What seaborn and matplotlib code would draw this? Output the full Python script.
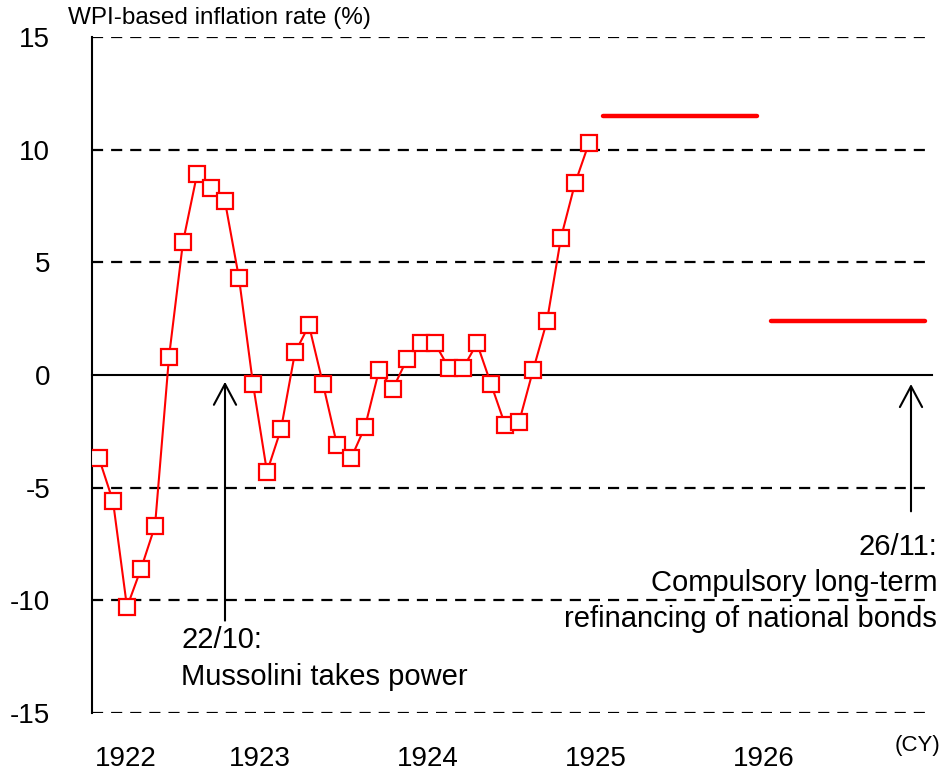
import numpy as np
import pandas as pd
import matplotlib
matplotlib.use("Agg")
import matplotlib.pyplot as plt
import seaborn as sns

# Monthly WPI-based inflation rate (%), Jan 1922 - Dec 1924
months_1922 = [-3.7, -5.6, -10.3, -8.6, -6.7, 0.8, 5.9, 8.9, 8.3, 7.7, 4.3, -0.4]
months_1923 = [-4.3, -2.4, 1.0, 2.2, -0.4, -3.1, -3.7, -2.3, 0.2, -0.6, 0.7, 1.4]
months_1924 = [1.4, 0.3, 0.3, 1.4, -0.4, -2.2, -2.1, 0.2, 2.4, 6.1, 8.5, 10.3]
start_year = 1922

# Annual figures shown as flat bars
annual_years = [1925, 1926]
annual_values = [11.5, 2.4]

year_labels = [1922, 1923, 1924, 1925, 1926]

# Events (year, month, label)
events = [
    (1922, 10, "22/10:\nMussolini takes power"),
    (1926, 11, "26/11:\nCompulsory long-term\nrefinancing of national bonds"),
]

values = months_1922 + months_1923 + months_1924
df = pd.DataFrame({
    "t": start_year + (np.arange(len(values)) + 0.5) / 12,
    "rate": values,
})

sns.set_style("white")
plt.rcParams["font.family"] = ["Liberation Sans", "DejaVu Sans"]
plt.rcParams["text.color"] = "black"
plt.rcParams["xtick.color"] = "black"
plt.rcParams["ytick.color"] = "black"

fig = plt.figure(figsize=(9.47, 7.77), dpi=100)
ax = fig.add_axes([92 / 947, 64 / 777, 840 / 947, 676 / 777])

# dashed grid
for y in [-15, -10, -5, 5, 10, 15]:
    ax.axhline(y, color="black", lw=1.6, ls=(0, (5, 3.6)), zorder=1)

sns.lineplot(data=df, x="t", y="rate", ax=ax, color="red", lw=1.5,
             marker="s", markersize=11.5, markerfacecolor="white",
             markeredgecolor="red", markeredgewidth=1.6, zorder=4)

for yr, v in zip(annual_years, annual_values):
    ax.plot([yr + 0.5 / 12, yr + 11.5 / 12], [v, v], color="red", lw=3.2,
            solid_capstyle="round", zorder=4)

ax.set_xlim(1922, 1927)
ax.set_ylim(-15, 15)

ax.spines["top"].set_visible(False)
ax.spines["right"].set_visible(False)
ax.spines["bottom"].set_position(("data", 0))
ax.spines["bottom"].set_linewidth(1.5)
ax.spines["left"].set_linewidth(1.5)
ax.spines["bottom"].set_color("black")
ax.spines["left"].set_color("black")

ax.set_xticks(np.arange(1922, 1927.01, 0.5))
ax.tick_params(axis="x", direction="in", length=7, width=1.5,
               labelbottom=False, color="black")
ax.set_yticks([-15, -10, -5, 0, 5, 10, 15])
ax.set_yticklabels([str(v) for v in [-15, -10, -5, 0, 5, 10, 15]])
ax.tick_params(axis="y", direction="in", length=6, width=1.5,
               pad=30, labelsize=20, color="black", labelcolor="black")
ax.set_xlabel("")
ax.set_ylabel("")

trans = ax.get_xaxis_transform()
for yr in year_labels:
    if yr == year_labels[0]:
        ax.text(yr + 0.02, -0.068, str(yr), transform=trans, ha="left",
                va="center", fontsize=20)
    else:
        ax.text(yr, -0.068, str(yr), transform=trans, ha="center",
                va="center", fontsize=20)

fig.text(940 / 947, 1 - 745 / 777, "(CY)", ha="right", va="center", fontsize=16)
fig.text(68 / 947, 1 - 18 / 777, "WPI-based inflation rate (%)", ha="left",
         va="center", fontsize=17.5)

# event arrows and notes
arrow_props = dict(arrowstyle="->, head_length=0.75, head_width=0.4",
                   lw=1.5, color="black", mutation_scale=20,
                   shrinkA=0, shrinkB=0)
yr, mo, label = events[0]
x = yr + (mo - 0.5) / 12
ax.annotate("", xy=(x, -0.3), xytext=(x, -10.9), arrowprops=arrow_props)
ax.text(x - 0.26, -11.15, label, ha="left", va="top", fontsize=21,
        linespacing=1.38)

yr, mo, label = events[1]
x = yr + (mo - 0.5) / 12
ax.annotate("", xy=(x, -0.4), xytext=(x, -6.05), arrowprops=arrow_props)
ax.text(1927.03, -7.0, label, ha="right", va="top", fontsize=21,
        linespacing=1.38)

fig.savefig("out.png", dpi=100)
